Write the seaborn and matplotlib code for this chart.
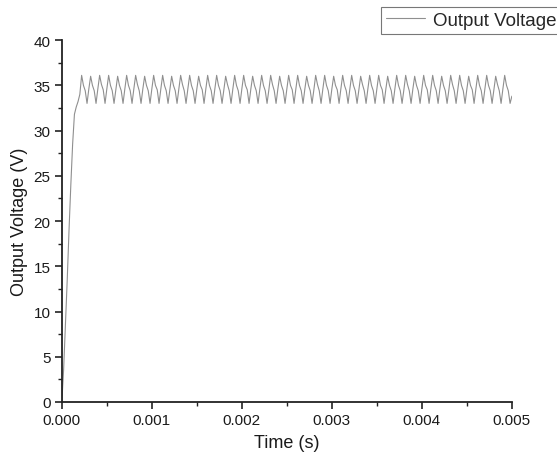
import numpy as np
import pandas as pd
import matplotlib
matplotlib.use("Agg")
import matplotlib.pyplot as plt
import seaborn as sns
from matplotlib.ticker import MultipleLocator

# -------------------- DATA --------------------
# start-up transient, sampled every 20 us from t = 0
startup_v = [0.0, 3.6, 8.5, 13.5, 19.0, 24.0, 28.5, 31.8, 32.6, 33.2, 34.0]

# steady-state ripple, one row per switching cycle (peak, shoulder, knee, trough, rise)
ripple_v = [
    36.1, 35.0, 34.4, 33.0, 34.6,
    36.0, 35.0, 34.4, 33.0, 34.6,
    36.1, 35.1, 34.5, 33.0, 34.6,
    36.1, 35.0, 34.4, 33.0, 34.5,
    36.0, 35.0, 34.4, 33.0, 34.6,
    36.1, 35.0, 34.4, 33.0, 34.6,
    36.1, 35.1, 34.4, 33.0, 34.6,
    36.0, 35.0, 34.4, 33.0, 34.6,
    36.1, 35.0, 34.5, 33.0, 34.6,
    36.1, 35.0, 34.4, 33.0, 34.5,
    36.0, 35.0, 34.4, 33.0, 34.6,
    36.1, 35.1, 34.4, 33.0, 34.6,
    36.1, 35.0, 34.4, 33.0, 34.6,
    36.0, 35.0, 34.5, 33.0, 34.6,
    36.1, 35.0, 34.4, 33.0, 34.6,
    36.1, 35.0, 34.4, 33.0, 34.5,
    36.0, 35.1, 34.4, 33.0, 34.6,
    36.1, 35.0, 34.4, 33.0, 34.6,
    36.1, 35.0, 34.5, 33.0, 34.6,
    36.0, 35.0, 34.4, 33.0, 34.6,
    36.1, 35.0, 34.4, 33.0, 34.5,
    36.1, 35.1, 34.4, 33.0, 34.6,
    36.0, 35.0, 34.4, 33.0, 34.6,
    36.1, 35.0, 34.5, 33.0, 34.6,
    36.1, 35.0, 34.4, 33.0, 34.6,
    36.0, 35.0, 34.4, 33.0, 34.5,
    36.1, 35.1, 34.4, 33.0, 34.6,
    36.1, 35.0, 34.4, 33.0, 34.6,
    36.0, 35.0, 34.5, 33.0, 34.6,
    36.1, 35.0, 34.4, 33.0, 34.6,
    36.1, 35.0, 34.4, 33.0, 34.5,
    36.0, 35.1, 34.4, 33.0, 34.6,
    36.1, 35.0, 34.4, 33.0, 34.6,
    36.1, 35.0, 34.5, 33.0, 34.6,
    36.0, 35.0, 34.4, 33.0, 34.6,
    36.1, 35.0, 34.4, 33.0, 34.5,
    36.1, 35.1, 34.4, 33.0, 34.6,
    36.0, 35.0, 34.4, 33.0, 34.6,
    36.1, 35.0, 34.5, 33.0, 34.6,
    36.1, 35.0, 34.4, 33.0, 34.6,
    36.0, 35.0, 34.4, 33.0, 34.5,
    36.1, 35.1, 34.4, 33.0, 34.6,
    36.1, 35.0, 34.4, 33.0, 34.6,
    36.0, 35.0, 34.5, 33.0, 34.6,
    36.1, 35.0, 34.4, 33.0, 34.6,
    36.1, 35.0, 34.4, 33.0, 34.5,
    36.0, 35.1, 34.4, 33.0, 34.6,
    36.1, 35.0, 34.4, 33.0, 33.8,
]

T_END = 0.005
voltage = startup_v + ripple_v
time_s = np.linspace(0, T_END, len(voltage))  # uniform 20 us sample grid

df = pd.DataFrame({"Time (s)": time_s, "Output Voltage (V)": voltage})

# -------------------- PLOT --------------------
sns.set_style("ticks")
plt.rcParams['font.family'] = ['Liberation Sans', 'DejaVu Sans']

fig = plt.figure(figsize=(5.57, 4.64), dpi=100)
ax = fig.add_axes([0.111, 0.1315, 0.808, 0.780])

sns.lineplot(data=df, x="Time (s)", y="Output Voltage (V)", ax=ax,
             color="#8f8f8f", linewidth=0.8, label="Output Voltage")

ax.set_xlim(0, T_END)
ax.set_ylim(0, 40)
ax.xaxis.set_major_locator(MultipleLocator(0.001))
ax.xaxis.set_minor_locator(MultipleLocator(0.0005))
ax.yaxis.set_major_locator(MultipleLocator(5))
ax.yaxis.set_minor_locator(MultipleLocator(2.5))
ax.xaxis.set_major_formatter(plt.FormatStrFormatter('%.3f'))

for side in ['top', 'right']:
    ax.spines[side].set_visible(False)
for side in ['left', 'bottom']:
    ax.spines[side].set_color('#222222')
    ax.spines[side].set_linewidth(1.3)

ax.tick_params(which='major', direction='out', length=5, width=1.2,
               color='#222222', labelsize=11, labelcolor='#1a1a1a', pad=3)
ax.tick_params(which='minor', direction='out', length=3, width=1.0, color='#222222')

ax.set_xlabel("Time (s)", fontsize=13, color='#1a1a1a', labelpad=5)
ax.set_ylabel("Output Voltage (V)", fontsize=13, color='#1a1a1a', labelpad=4)

leg = ax.legend(loc='upper left', bbox_to_anchor=(381 / 557, 1 - 8 / 464),
                bbox_transform=fig.transFigure, fontsize=13.5, frameon=True,
                fancybox=False, borderpad=0.25, handlelength=2.1,
                handletextpad=0.4, borderaxespad=0)
leg.get_frame().set_edgecolor('#555555')
leg.get_frame().set_linewidth(0.8)

fig.savefig("out.png", dpi=100)
